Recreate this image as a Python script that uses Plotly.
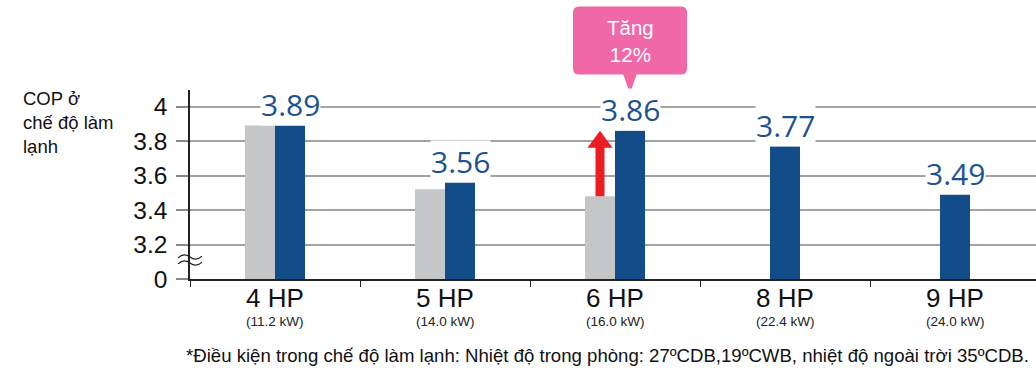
import plotly.graph_objects as go

# Data
models = ["4 HP", "5 HP", "6 HP", "8 HP", "9 HP"]
capacities = ["(11.2 kW)", "(14.0 kW)", "(16.0 kW)", "(22.4 kW)", "(24.0 kW)"]
old_models = ["4 HP", "5 HP", "6 HP"]
cop_old = [3.89, 3.52, 3.48]
cop_new = [3.89, 3.56, 3.86, 3.77, 3.49]
y_ticks = [3.0, 3.2, 3.4, 3.6, 3.8, 4.0]
y_ticktext = ["0", "3.2", "3.4", "3.6", "3.8", "4"]

GREY = "#c5c6c8"
BLUE = "#124c89"
LABEL_BLUE = "#1b5391"
PINK = "#f068a8"
RED = "#ec1c24"

W_PX, H_PX = 1036, 368
M_L, M_R, M_T, M_B = 190, 0, 90, 89
CAT_PX = 170.0                     # pixels per category
Y_PX = 172.5                       # pixels per y unit
x0, x1 = -0.5, -0.5 + (W_PX - M_L - M_R) / CAT_PX
y_lo = 3.0
y_hi = y_lo + (H_PX - M_T - M_B) / Y_PX
w = 30 / CAT_PX                    # bar width in category units


def xp(c):
    """category units -> paper x"""
    return (c - x0) / (x1 - x0)


def yp(v):
    """y data units -> paper y"""
    return (v - y_lo) / (y_hi - y_lo)


PX_X = 1 / (W_PX - M_L - M_R)       # one pixel in paper x
PX_Y = 1 / (H_PX - M_T - M_B)       # one pixel in paper y

paired = set(old_models)
new_offsets = [0.0 if m in paired else -w / 2 for m in models]
new_centers = [i + (w / 2 if m in paired else 0.0) for i, m in enumerate(models)]

fig = go.Figure()
fig.add_trace(go.Bar(x=old_models, y=cop_old, width=w, offset=[-w] * len(old_models),
                     marker=dict(color=GREY, line=dict(width=0)), hoverinfo="skip"))
fig.add_trace(go.Bar(x=models, y=cop_new, width=w, offset=new_offsets,
                     marker=dict(color=BLUE, line=dict(width=0)), hoverinfo="skip"))

# value labels above the blue bars
for i, v in enumerate(cop_new):
    fig.add_annotation(x=new_centers[i], y=v, xref="x", yref="y", text=f"{v:.2f}",
                       showarrow=False, xanchor="center", yanchor="middle", yshift=21,
                       font=dict(family="Open Sans", size=30, color=LABEL_BLUE),
                       bgcolor="white", borderpad=0)

# category names and capacities under each category
for i, (m, c) in enumerate(zip(models, capacities)):
    fig.add_annotation(x=i, y=0, xref="x", yref="paper", text=m, showarrow=False,
                       xanchor="center", yanchor="middle", yshift=-19, borderpad=0,
                       font=dict(family="Liberation Sans", size=26, color="#111"))
    fig.add_annotation(x=i, y=0, xref="x", yref="paper", text=c, showarrow=False,
                       xanchor="center", yanchor="middle", yshift=-42, borderpad=0,
                       font=dict(family="Liberation Sans", size=13.5, color="#222"))

shapes = []
# axis-break marks on the y axis
xa = -12 * PX_X
xb = 12 * PX_X
for yc in (yp(3.0) + 22 * PX_Y, yp(3.0) + 16 * PX_Y):
    amp = 3 * PX_Y
    q1 = xa + (xb - xa) * 0.25
    path = (f"M {xa} {yc - amp * 0.3} Q {q1} {yc + amp * 1.6}, {0} {yc} "
            f"T {xb} {yc + amp * 0.3}")
    shapes.append(dict(type="path", xref="paper", yref="paper", path=path,
                       line=dict(color="#222", width=1.3)))

# red arrow from old to new COP for 6 HP
ax_c = xp(2 - w / 2)
sw = 4.5 * PX_X
hw = 12.5 * PX_X
hh = 17 * PX_Y
y0a, y1a = yp(cop_old[2]), yp(cop_new[2])
arrow = (f"M {ax_c - sw} {y0a} L {ax_c - sw} {y1a - hh} L {ax_c - hw} {y1a - hh} "
         f"L {ax_c} {y1a} L {ax_c + hw} {y1a - hh} L {ax_c + sw} {y1a - hh} "
         f"L {ax_c + sw} {y0a} Z")
shapes.append(dict(type="path", xref="paper", yref="paper", path=arrow,
                   fillcolor=RED, line=dict(width=0)))

# pink callout above the 6 HP bar: rounded box plus pointer
cx = xp(new_centers[2])
bw = 57 * PX_X
b_bot = yp(4.0) + 32 * PX_Y
b_top = yp(4.0) + 100 * PX_Y
r_x = 6 * PX_X
r_y = 6 * PX_Y
box = (f"M {cx - bw + r_x} {b_top} L {cx + bw - r_x} {b_top} "
       f"Q {cx + bw} {b_top} {cx + bw} {b_top - r_y} "
       f"L {cx + bw} {b_bot + r_y} Q {cx + bw} {b_bot} {cx + bw - r_x} {b_bot} "
       f"L {cx - bw + r_x} {b_bot} Q {cx - bw} {b_bot} {cx - bw} {b_bot + r_y} "
       f"L {cx - bw} {b_top - r_y} Q {cx - bw} {b_top} {cx - bw + r_x} {b_top} Z")
shapes.append(dict(type="path", xref="paper", yref="paper", path=box,
                   fillcolor=PINK, line=dict(width=0), layer="above"))
tip_x = cx
tip_y = yp(4.0) + 13 * PX_Y
tw = 7 * PX_X
pointer = (f"M {tip_x - tw} {b_bot + PX_Y} L {tip_x + tw} {b_bot + PX_Y} "
           f"L {tip_x} {tip_y} Z")
shapes.append(dict(type="path", xref="paper", yref="paper", path=pointer,
                   fillcolor=PINK, line=dict(width=0), layer="above"))
fig.add_annotation(x=cx, y=(b_bot + b_top) / 2, xref="paper", yref="paper",
                   text="Tăng<br>12%", showarrow=False, xanchor="center", yanchor="middle",
                   font=dict(family="Liberation Sans", size=20.5, color="white"))

# y-axis title
fig.add_annotation(x=0, y=1, xref="paper", yref="paper", xshift=-169, yshift=4,
                   text="COP ở<br>chế độ làm<br>lạnh", showarrow=False, align="left",
                   xanchor="left", yanchor="top",
                   font=dict(family="Liberation Sans", size=18.5, color="#111"))

# footnote
fig.add_annotation(x=1, y=0, xref="paper", yref="paper", xshift=-5, yshift=-76,
                   text="*Điều kiện trong chế độ làm lạnh: Nhiệt độ trong phòng: 27ºCDB,19ºCWB, "
                        "nhiệt độ ngoài trời 35ºCDB.",
                   showarrow=False, xanchor="right", yanchor="middle",
                   font=dict(family="Liberation Sans", size=18.6, color="#111"))

fig.update_layout(
    width=W_PX, height=H_PX,
    margin=dict(l=M_L, r=M_R, t=M_T, b=M_B),
    paper_bgcolor="white", plot_bgcolor="white",
    barmode="overlay", showlegend=False, shapes=shapes,
    xaxis=dict(type="category", categoryorder="array", categoryarray=models,
               range=[x0, x1], showgrid=False, showline=True, linecolor="#222", linewidth=1.5,
               ticks="outside", tickson="boundaries", ticklen=6, tickcolor="#222",
               showticklabels=False, zeroline=False),
    yaxis=dict(range=[y_lo, y_hi], tickvals=y_ticks, ticktext=y_ticktext,
               showgrid=True, gridcolor="#a3a3a3", gridwidth=2,
               showline=True, linecolor="#222", linewidth=1.5,
               ticks="outside", ticklen=12, tickcolor="#888", tickwidth=1.5,
               tickfont=dict(family="Liberation Sans", size=24.5, color="#111"),
               ticklabelstandoff=4, zeroline=False),
)

fig.write_html("out.html")
